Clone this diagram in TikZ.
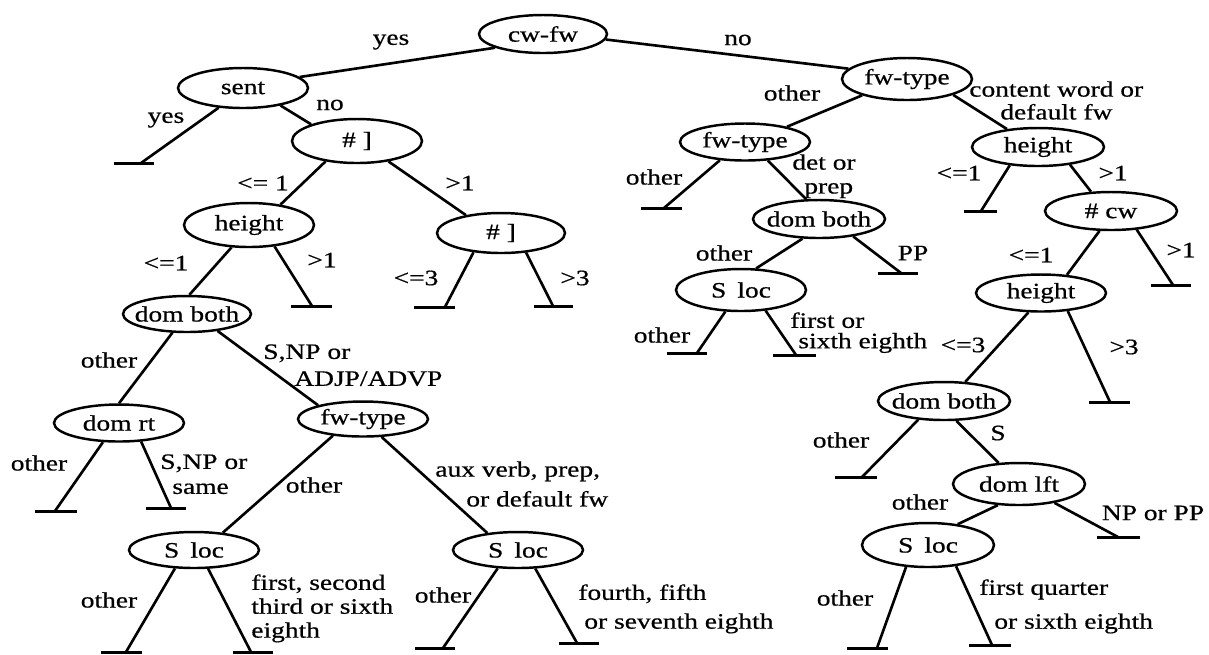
\documentclass[tikz,border=0pt]{standalone}
\usepackage{fontspec}
\setmainfont{Liberation Serif}[FakeStretch=1.25,FakeBold=0.6]
\usetikzlibrary{shapes.geometric}
\newcommand\teebar[3]{\draw[bar] (#1) ++(#2,0) -- ++(#3,0);}
\begin{document}
\begin{tikzpicture}[x=0.02cm,y=-0.02cm,
  font=\fontsize{12.5pt}{13.6pt}\selectfont,
  dn/.style={ellipse,draw,line width=1.4pt,inner sep=0pt,minimum width=2.6cm,minimum height=0.76cm},
  edge/.style={line width=1.5pt},
  bar/.style={line width=1.7pt},
  lb/.style={inner sep=0pt,align=left},
  ml/.style={inner sep=0pt,align=left,anchor=north west}]
\fill[white] (0,0) rectangle (1209,654);
\useasboundingbox (0,0) rectangle (1209,654);

% decision nodes
\node[dn,minimum width=2.56cm,minimum height=0.76cm] (root) at (543,34) {\makebox[0pt]{cw-fw}};
\node[dn,minimum height=0.80cm] (sent) at (243,88) {\makebox[0pt]{sent}};
\node[dn,minimum height=0.88cm] (nb1) at (357,141) {\makebox[0pt]{\# ]}};
\node[dn,minimum height=0.88cm] (h1) at (249,225) {\makebox[0pt]{height}};
\node[dn,minimum width=2.56cm,minimum height=0.80cm] (nb2) at (501,233) {\makebox[0pt]{\# ]}};
\node[dn,minimum width=2.56cm,minimum height=0.72cm] (db1) at (187,314) {\makebox[0pt]{dom both}};
\node[dn,minimum height=0.74cm] (drt) at (119,423) {\makebox[0pt]{dom rt}};
\node[dn,minimum height=0.70cm] (fwt2) at (363,419) {\makebox[0pt]{fw-type}};
\node[dn,minimum height=0.72cm] (sl1) at (194,550) {\makebox[0pt]{S\enspace loc}};
\node[dn,minimum height=0.72cm] (sl2) at (518,550) {\makebox[0pt]{S\enspace loc}};
\node[dn,minimum height=0.84cm] (fwt) at (907,79) {\makebox[0pt]{fw-type}};
\node[dn,minimum height=0.74cm] (fwtm) at (745,142) {\makebox[0pt]{fw-type}};
\node[dn,minimum width=2.64cm,minimum height=0.76cm] (dbm) at (819,219) {\makebox[0pt]{dom both}};
\node[dn,minimum height=0.84cm] (slm) at (741,290) {\makebox[0pt]{S\enspace loc}};
\node[dn,minimum width=2.64cm,minimum height=0.76cm] (hr) at (1038,147) {\makebox[0pt]{height}};
\node[dn,minimum width=2.64cm,minimum height=0.76cm] (cw) at (1111,211) {\makebox[0pt]{\# cw}};
\node[dn,minimum height=0.74cm] (hr2) at (1041,293) {\makebox[0pt]{height}};
\node[dn,minimum width=2.64cm,minimum height=0.76cm] (dbr) at (944,401) {\makebox[0pt]{dom both}};
\node[dn,minimum width=2.64cm,minimum height=0.84cm] (dl) at (1019,484) {\makebox[0pt]{dom lft}};
\node[dn,minimum width=2.64cm,minimum height=0.88cm] (slr) at (928,545) {\makebox[0pt]{S\enspace loc}};

% leaf ends
\coordinate (t1) at (141,163);
\coordinate (t2) at (312,306);
\coordinate (t3) at (445,307);
\coordinate (t4) at (553,306);
\coordinate (t5) at (55,511);
\coordinate (t6) at (171,508);
\coordinate (t7) at (126,652);
\coordinate (t8) at (251,652);
\coordinate (t9) at (443,648);
\coordinate (t10) at (577,643);
\coordinate (t11) at (664,208);
\coordinate (t12) at (901,273);
\coordinate (t13) at (697,353);
\coordinate (t14) at (796,355);
\coordinate (t15) at (981,211);
\coordinate (t16) at (1173,285);
\coordinate (t17) at (1110,402);
\coordinate (t18) at (862,477);
\coordinate (t19) at (1118,537);
\coordinate (t20) at (877,648);
\coordinate (t21) at (992,645);

% connectors
\draw[edge] (root.-164) -- (sent.11);
\draw[edge] (root.-5.5) -- (fwt.170);
\draw[edge] (sent.-141) -- (t1);
\draw[edge] (sent.-25) -- (nb1.160);
\draw[edge] (nb1.-147) -- (h1.33);
\draw[edge] (nb1.-33) -- (nb2.153);
\draw[edge] (h1.-128) -- (db1.83);
\draw[edge] (h1.-40) -- (t2);
\draw[edge] (nb2.-145) -- (t3);
\draw[edge] (nb2.-38) -- (t4);
\draw[edge] (db1.-128) -- (drt.90);
\draw[edge] (db1.-29) -- (fwt2.163);
\draw[edge] (drt.-130) -- (t5);
\draw[edge] (drt.-40) -- (t6);
\draw[edge] (fwt2.-151) -- (sl1.31);
\draw[edge] (fwt2.-44) -- (sl2.151);
\draw[edge] (sl1.-136) -- (t7);
\draw[edge] (sl1.-53) -- (t8);
\draw[edge] (sl2.-138) -- (t9);
\draw[edge] (sl2.-47) -- (t10);
\draw[edge] (fwt.-160) -- (fwtm.20);
\draw[edge] (fwt.-19) -- (hr.150);
\draw[edge] (fwtm.-144) -- (t11);
\draw[edge] (fwtm.-39) -- (dbm.123);
\draw[edge] (dbm.-130) -- (slm.55);
\draw[edge] (dbm.-27) -- (t12);
\draw[edge] (slm.-126) -- (t13);
\draw[edge] (slm.-40) -- (t14);
\draw[edge] (hr.-147) -- (t15);
\draw[edge] (hr.-29) -- (cw.136);
\draw[edge] (cw.-120) -- (hr2.35);
\draw[edge] (cw.-36) -- (t16);
\draw[edge] (hr2.-123) -- (dbr.42);
\draw[edge] (hr2.-34) -- (t17);
\draw[edge] (dbr.-144) -- (t18);
\draw[edge] (dbr.-58) -- (dl.134);
\draw[edge] (dl.-135) -- (slr.35);
\draw[edge] (dl.-28) -- (t19);
\draw[edge] (slr.-135) -- (t20);
\draw[edge] (slr.-37) -- (t21);

% tee bars
\teebar{t1}{-27}{40}
\teebar{t2}{-21}{41}
\teebar{t3}{-31}{41}
\teebar{t4}{-19}{39}
\teebar{t5}{-20}{42}
\teebar{t6}{-25}{40}
\teebar{t7}{-25}{41}
\teebar{t8}{-18}{40}
\teebar{t9}{-28}{40}
\teebar{t10}{-18}{40}
\teebar{t11}{-23}{41}
\teebar{t12}{-23}{40}
\teebar{t13}{-30}{40}
\teebar{t14}{-23}{43}
\teebar{t15}{-17}{33}
\teebar{t16}{-22}{40}
\teebar{t17}{-21}{41}
\teebar{t18}{-27}{42}
\teebar{t19}{-21}{43}
\teebar{t20}{-30}{41}
\teebar{t21}{-23}{42}

% single-line labels
\node[lb] (l1) at (391,42) {yes};
\node[lb] (l2) at (738,40) {no};
\node[lb] (l3) at (166,120) {yes};
\node[lb] (l4) at (330,105) {no};
\node[lb] (l5) at (263,183) {<= 1};
\node[lb] (l6) at (460,183) {>1};
\node[lb] (l7) at (166,263) {<=1};
\node[lb] (l8) at (322,260) {>1};
\node[lb] (l9) at (416,278) {<=3};
\node[lb] (l10) at (575,278) {>3};
\node[lb] (l11) at (109,360) {other};
\node[lb] (l12) at (39,463) {other};
\node[lb] (l13) at (314,485) {other};
\node[lb] (l14) at (109,600) {other};
\node[lb] (l15) at (443,595) {other};
\node[lb] (l16) at (792,93) {other};
\node[lb] (l17) at (654,177) {other};
\node[lb] (l18) at (724,253) {other};
\node[lb] (l19) at (913,253) {PP};
\node[lb] (l20) at (662,335) {other};
\node[lb] (l21) at (959,173) {<=1};
\node[lb] (l22) at (1113,173) {>1};
\node[lb] (l23) at (1031,255) {<=1};
\node[lb] (l24) at (1181,250) {>1};
\node[lb] (l25) at (963,345) {<=3};
\node[lb] (l26) at (1124,347) {>3};
\node[lb] (l27) at (841,440) {other};
\node[lb] (l28) at (998,433) {S};
\node[lb] (l29) at (920,502) {other};
\node[lb] (l30) at (1153,513) {NP or PP};
\node[lb] (l31) at (845,598) {other};

% multi-line labels
\node[ml] (m1) at (263,344) {S,NP or\\[1.7pt]\hspace*{0.62cm}ADJP/ADVP};
\node[ml] (m2) at (160,454) {S,NP or\\[0.6pt]\hspace*{0.24cm}same};
\node[ml] (m3) at (435,461) {aux verb, prep,\\[3.4pt]\hspace*{0.62cm}or default fw};
\node[ml] (m4) at (251,574) {first, second\\third or sixth\\eighth};
\node[ml] (m5) at (578,584) {fourth, fifth\\[2.8pt]\hspace*{0.12cm}or seventh eighth};
\node[ml] (m6) at (969,81) {content word or\\[-0.6pt]\hspace*{0.62cm}default fw};
\node[ml] (m7) at (792,154) {det or\\\hspace*{0.24cm}prep};
\node[ml] (m8) at (790,312) {first or\\[-2pt]\hspace*{0.16cm}sixth eighth};
\node[ml] (m9) at (979,579) {first quarter\\[5.7pt]\hspace*{0.3cm}or sixth eighth};
\end{tikzpicture}
\end{document}
